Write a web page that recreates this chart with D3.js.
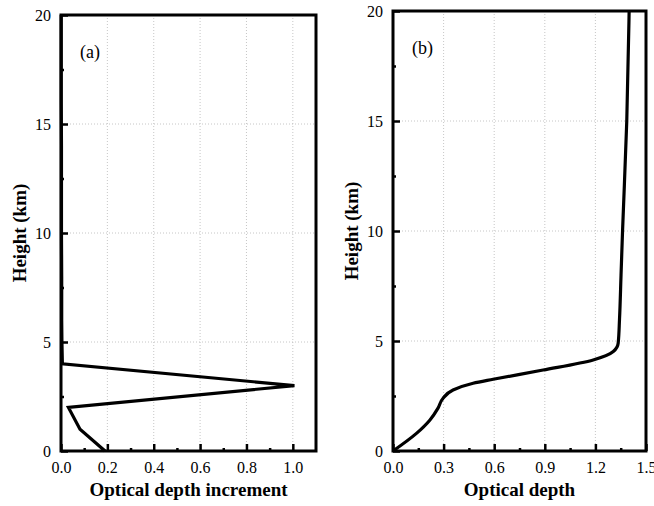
<!DOCTYPE html>
<html>
<head>
<meta charset="utf-8">
<script src="https://cdn.jsdelivr.net/npm/d3@7"></script>
<style>
  body { margin: 0; background: #fff; }
  svg { display: block; font-family: "Liberation Serif", "Times New Roman", serif; }
</style>
</head>
<body>
<svg id="chart" width="654" height="506"></svg>
<script>
// panel (a): increment per km
var heightsA = [0, 1, 2, 3, 4, 5, 6, 8, 10, 12, 14, 16, 18, 20];
var incrementA = [0.19, 0.082, 0.032, 1.007, 0.006, 0.004, 0.003, 0.003, 0.002, 0.002, 0.002, 0.001, 0.001, 0.001];

// panel (b): cumulative optical depth
var heightsB = [0, 0.8, 1.4, 1.95, 2.4, 2.77, 3.08, 3.26, 3.68, 4.14, 4.52, 4.9, 6, 8, 10, 15, 20];
var depthB = [0, 0.139, 0.218, 0.267, 0.297, 0.356, 0.475, 0.594, 0.89, 1.187, 1.306, 1.335, 1.343, 1.352, 1.361, 1.386, 1.40];

var yTicks = [0, 5, 10, 15, 20];
var xTicksA = [0, 0.2, 0.4, 0.6, 0.8, 1.0];
var xTicksB = [0, 0.3, 0.6, 0.9, 1.2, 1.5];

var svg = d3.select('#chart');
var serif = '"Liberation Serif", "Times New Roman", serif';

function panel(opt) {
    var g = svg.append('g');
    var x = d3.scaleLinear().domain(opt.xDomain).range([opt.left, opt.right]);
    var y = d3.scaleLinear().domain([0, 20]).range([opt.bottom, opt.top]);

    // grid
    g.selectAll('.gx').data(opt.xTicks.filter(function (d) { return d > 0 && d < opt.xDomain[1]; }))
        .enter().append('line')
        .attr('x1', function (d) { return x(d); }).attr('x2', function (d) { return x(d); })
        .attr('y1', opt.top).attr('y2', opt.bottom)
        .style('stroke', '#b8b8b8').style('stroke-width', 0.8).style('stroke-dasharray', '1,2');
    g.selectAll('.gy').data([5, 10, 15])
        .enter().append('line')
        .attr('x1', opt.left).attr('x2', opt.right)
        .attr('y1', function (d) { return y(d); }).attr('y2', function (d) { return y(d); })
        .style('stroke', '#b8b8b8').style('stroke-width', 0.8).style('stroke-dasharray', '1,2');

    // axes with inward ticks
    var xMinor = [];
    for (var i = 0; i < opt.xTicks.length - 1; i += 1) {
        xMinor.push((opt.xTicks[i] + opt.xTicks[i + 1]) / 2);
    }
    var xAxis = g.append('g').attr('transform', 'translate(0,' + opt.bottom + ')')
        .call(d3.axisBottom(x).tickValues(opt.xTicks).tickSize(-7).tickPadding(12)
            .tickFormat(opt.xFormat));
    g.append('g').attr('transform', 'translate(0,' + opt.bottom + ')')
        .call(d3.axisBottom(x).tickValues(xMinor).tickSize(-3).tickFormat(''));
    g.append('g').attr('transform', 'translate(' + opt.left + ',0)')
        .call(d3.axisLeft(y).tickValues(yTicks).tickSize(-7).tickPadding(10));
    g.append('g').attr('transform', 'translate(' + opt.left + ',0)')
        .call(d3.axisLeft(y).tickValues([2.5, 7.5, 12.5, 17.5]).tickSize(-3).tickFormat(''));

    g.selectAll('.domain').remove();
    g.selectAll('.tick line').style('stroke', '#000').style('stroke-width', 2.5);
    g.selectAll('.tick text').style('font-size', '16px').style('fill', '#000')
        .style('font-family', serif);
    xAxis.selectAll('.tick text').attr('dy', '0.6em');

    // frame
    g.append('rect')
        .attr('x', opt.left).attr('y', opt.top)
        .attr('width', opt.right - opt.left).attr('height', opt.bottom - opt.top)
        .style('fill', 'none').style('stroke', '#000').style('stroke-width', 3);

    // data line
    var line = d3.line()
        .x(function (d) { return x(d[0]); })
        .y(function (d) { return y(d[1]); })
        .curve(opt.curve);
    g.append('path')
        .datum(d3.zip(opt.xs, opt.ys))
        .attr('d', line)
        .style('fill', 'none').style('stroke', '#000')
        .style('stroke-width', 3.2).style('stroke-linejoin', 'miter');

    // labels
    g.append('text').attr('x', opt.left + 19).attr('y', opt.top + 43)
        .style('font-family', serif).style('font-size', '18px').text(opt.tag);
    g.append('text')
        .attr('x', (opt.left + opt.right) / 2).attr('y', 496)
        .attr('text-anchor', 'middle')
        .style('font-family', serif)
        .style('font-size', '19px').style('font-weight', 'bold')
        .text(opt.xTitle);
    g.append('text')
        .attr('transform', 'translate(' + (opt.left - 35) + ',' + ((opt.top + opt.bottom) / 2) + ') rotate(-90)')
        .attr('text-anchor', 'middle')
        .style('font-family', serif)
        .style('font-size', '19px').style('font-weight', 'bold')
        .text('Height (km)');
}

panel({
    left: 61, right: 316, top: 15, bottom: 451,
    xDomain: [0, 1.1], xTicks: xTicksA, xFormat: d3.format('.1f'),
    xs: incrementA, ys: heightsA, curve: d3.curveLinear,
    tag: '(a)', xTitle: 'Optical depth increment'
});

panel({
    left: 393, right: 646, top: 11, bottom: 451,
    xDomain: [0, 1.5], xTicks: xTicksB, xFormat: d3.format('.1f'),
    xs: depthB, ys: heightsB, curve: d3.curveMonotoneY,
    tag: '(b)', xTitle: 'Optical depth'
});
</script>
</body>
</html>
